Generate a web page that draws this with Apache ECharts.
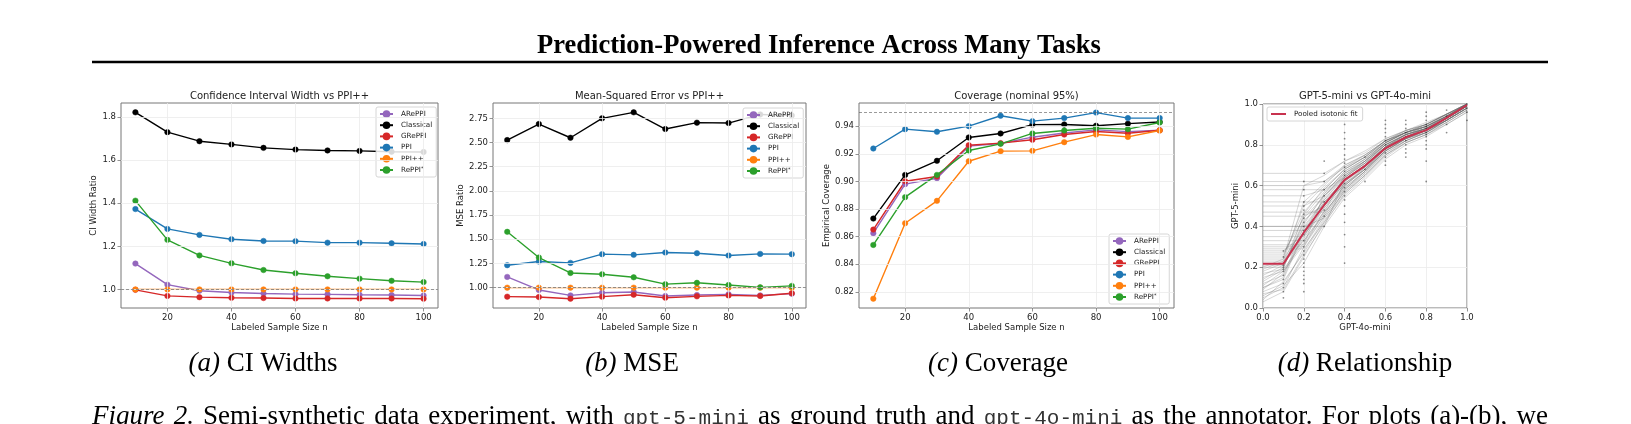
<!DOCTYPE html>
<html>
<head>
<meta charset="utf-8">
<script src="https://cdn.jsdelivr.net/npm/echarts@6/dist/echarts.min.js"></script>
<style>
  html, body { margin: 0; padding: 0; background: #fff; }
  #chart { width: 1631px; height: 424px; }
</style>
</head>
<body>
<div id="chart"></div>
<script>
// Labeled sample sizes shared by panels (a)-(c)
const sampleSizes = [10, 20, 30, 40, 50, 60, 70, 80, 90, 100];
const methods = ['ARePPI', 'Classical', 'GRePPI', 'PPI', 'PPI++', 'RePPI'];

// (a) CI width ratio vs PPI++
const ciARePPI    = [1.120, 1.022, 0.994, 0.986, 0.981, 0.978, 0.977, 0.975, 0.974, 0.972];
const ciClassical = [1.822, 1.730, 1.688, 1.673, 1.657, 1.649, 1.645, 1.643, 1.639, 1.638];
const ciGRePPI    = [0.998, 0.970, 0.964, 0.961, 0.960, 0.958, 0.958, 0.958, 0.958, 0.957];
const ciPPI       = [1.373, 1.281, 1.253, 1.233, 1.225, 1.224, 1.217, 1.217, 1.214, 1.211];
const ciPPIpp     = [1.0, 1.0, 1.0, 1.0, 1.0, 1.0, 1.0, 1.0, 1.0, 1.0];
const ciRePPI     = [1.412, 1.230, 1.158, 1.121, 1.090, 1.075, 1.061, 1.050, 1.040, 1.034];

// (b) MSE ratio vs PPI++
const mseARePPI    = [1.111, 0.976, 0.920, 0.948, 0.955, 0.914, 0.924, 0.931, 0.920, 0.938];
const mseClassical = [2.525, 2.691, 2.549, 2.750, 2.812, 2.639, 2.705, 2.701, 2.790, 2.780];
const mseGRePPI    = [0.907, 0.903, 0.886, 0.907, 0.927, 0.896, 0.910, 0.920, 0.914, 0.942];
const msePPI       = [1.232, 1.270, 1.256, 1.346, 1.339, 1.363, 1.356, 1.332, 1.349, 1.346];
const msePPIpp     = [1.0, 1.0, 1.0, 1.0, 1.0, 1.0, 1.0, 1.0, 1.0, 1.0];
const mseRePPI     = [1.577, 1.311, 1.152, 1.138, 1.107, 1.036, 1.050, 1.028, 1.003, 1.018];

// (c) empirical coverage
const covARePPI    = [0.8625, 0.8980, 0.9023, 0.9255, 0.9274, 0.9320, 0.9350, 0.9373, 0.9360, 0.9370];
const covClassical = [0.8731, 0.9047, 0.9149, 0.9318, 0.9347, 0.9411, 0.9412, 0.9403, 0.9418, 0.9430];
const covGRePPI    = [0.8651, 0.9001, 0.9035, 0.9262, 0.9277, 0.9301, 0.9339, 0.9361, 0.9349, 0.9370];
const covPPI       = [0.9238, 0.9378, 0.9359, 0.9400, 0.9475, 0.9436, 0.9458, 0.9498, 0.9458, 0.9458];
const covPPIpp     = [0.8151, 0.8697, 0.8859, 0.9146, 0.9219, 0.9221, 0.9284, 0.9339, 0.9322, 0.9368];
const covRePPI     = [0.8540, 0.8886, 0.9047, 0.9224, 0.9272, 0.9347, 0.9368, 0.9385, 0.9378, 0.9426];
const nominalCoverage = 0.95;
const referenceRatio = 1.0;

// tick labels
const nTicks = [20, 40, 60, 80, 100];
const ciTicks = [1.0, 1.2, 1.4, 1.6, 1.8];
const mseTicks = [1.0, 1.25, 1.5, 1.75, 2.0, 2.25, 2.5, 2.75];
const covTicks = [0.82, 0.84, 0.86, 0.88, 0.90, 0.92, 0.94];

// (d) GPT-4o-mini score grid and per-task isotonic fits of GPT-5-mini
const fitX = [0.0, 0.1, 0.2, 0.3, 0.4, 0.5, 0.6, 0.7, 0.8, 0.9, 1.0];
const pooledFit = [0.217, 0.217, 0.370, 0.505, 0.628, 0.697, 0.783, 0.837, 0.872, 0.932, 0.995];
const taskFits = [
  [0.05, 0.10, 0.30, 0.45, 0.58, 0.66, 0.76, 0.82, 0.86, 0.92, 0.98],
  [0.10, 0.15, 0.38, 0.52, 0.63, 0.70, 0.79, 0.84, 0.87, 0.93, 0.99],
  [0.20, 0.20, 0.42, 0.55, 0.65, 0.71, 0.80, 0.85, 0.88, 0.93, 1.00],
  [0.30, 0.30, 0.30, 0.48, 0.60, 0.68, 0.77, 0.83, 0.87, 0.92, 0.99],
  [0.40, 0.40, 0.40, 0.40, 0.62, 0.70, 0.79, 0.84, 0.88, 0.94, 1.00],
  [0.45, 0.45, 0.45, 0.50, 0.64, 0.72, 0.80, 0.85, 0.89, 0.94, 1.00],
  [0.50, 0.50, 0.50, 0.55, 0.66, 0.72, 0.81, 0.86, 0.89, 0.94, 0.99],
  [0.55, 0.55, 0.55, 0.58, 0.68, 0.74, 0.82, 0.86, 0.90, 0.95, 1.00],
  [0.60, 0.60, 0.60, 0.62, 0.70, 0.75, 0.82, 0.87, 0.90, 0.95, 1.00],
  [0.66, 0.66, 0.66, 0.66, 0.72, 0.76, 0.83, 0.87, 0.91, 0.95, 1.00],
  [0.15, 0.18, 0.35, 0.50, 0.62, 0.69, 0.78, 0.84, 0.87, 0.93, 0.99],
  [0.18, 0.22, 0.45, 0.57, 0.66, 0.72, 0.80, 0.85, 0.88, 0.94, 0.99],
  [0.22, 0.22, 0.33, 0.47, 0.59, 0.67, 0.77, 0.83, 0.86, 0.92, 0.98],
  [0.08, 0.12, 0.28, 0.44, 0.57, 0.65, 0.75, 0.82, 0.86, 0.91, 0.97],
  [0.25, 0.25, 0.50, 0.60, 0.70, 0.75, 0.82, 0.86, 0.89, 0.94, 1.00],
  [0.12, 0.16, 0.40, 0.53, 0.64, 0.71, 0.79, 0.85, 0.88, 0.93, 0.99],
  [0.28, 0.28, 0.36, 0.49, 0.61, 0.68, 0.78, 0.84, 0.88, 0.93, 0.99],
  [0.03, 0.08, 0.25, 0.42, 0.55, 0.64, 0.74, 0.81, 0.85, 0.90, 0.96],
  [0.31, 0.31, 0.31, 0.56, 0.67, 0.73, 0.81, 0.86, 0.89, 0.94, 1.00],
  [0.20, 0.24, 0.60, 0.65, 0.72, 0.77, 0.83, 0.87, 0.90, 0.95, 1.00],
  [0.17, 0.19, 0.32, 0.46, 0.60, 0.68, 0.78, 0.83, 0.87, 0.92, 0.98],
  [0.58, 0.58, 0.58, 0.58, 0.64, 0.71, 0.80, 0.85, 0.88, 0.93, 0.99],
  [0.35, 0.35, 0.35, 0.52, 0.63, 0.70, 0.79, 0.85, 0.89, 0.94, 1.00],
  [0.10, 0.14, 0.37, 0.54, 0.66, 0.73, 0.81, 0.86, 0.89, 0.94, 0.99],
  [0.06, 0.11, 0.22, 0.40, 0.54, 0.63, 0.73, 0.80, 0.84, 0.90, 0.96],
  [0.26, 0.26, 0.47, 0.58, 0.68, 0.74, 0.82, 0.86, 0.90, 0.95, 1.00],
  [0.14, 0.20, 0.43, 0.51, 0.61, 0.69, 0.78, 0.83, 0.87, 0.92, 0.98],
  [0.40, 0.40, 0.40, 0.44, 0.57, 0.66, 0.76, 0.82, 0.86, 0.92, 0.98],
  [0.24, 0.24, 0.39, 0.53, 0.65, 0.72, 0.80, 0.85, 0.88, 0.94, 0.99],
  [0.52, 0.52, 0.52, 0.52, 0.60, 0.69, 0.79, 0.84, 0.88, 0.93, 0.99],
  [0.09, 0.17, 0.34, 0.49, 0.61, 0.68, 0.77, 0.83, 0.87, 0.92, 0.98],
  [0.21, 0.21, 0.41, 0.56, 0.67, 0.73, 0.81, 0.86, 0.89, 0.94, 0.99],
  [0.04, 0.13, 0.27, 0.43, 0.56, 0.65, 0.75, 0.81, 0.85, 0.91, 0.97],
  [0.38, 0.38, 0.38, 0.50, 0.62, 0.70, 0.79, 0.85, 0.88, 0.93, 0.99],
  [0.16, 0.21, 0.36, 0.47, 0.58, 0.67, 0.77, 0.83, 0.86, 0.92, 0.98],
  [0.27, 0.27, 0.44, 0.55, 0.64, 0.71, 0.80, 0.85, 0.88, 0.93, 0.99],
  [0.11, 0.18, 0.31, 0.45, 0.59, 0.67, 0.77, 0.82, 0.86, 0.92, 0.98],
  [0.47, 0.47, 0.47, 0.47, 0.65, 0.72, 0.81, 0.86, 0.89, 0.94, 1.00],
  [0.19, 0.23, 0.52, 0.61, 0.69, 0.74, 0.81, 0.86, 0.89, 0.95, 1.00],
  [0.07, 0.09, 0.26, 0.41, 0.56, 0.65, 0.75, 0.81, 0.85, 0.91, 0.97],
  [0.33, 0.33, 0.33, 0.46, 0.60, 0.68, 0.78, 0.84, 0.87, 0.93, 0.99],
  [0.23, 0.23, 0.37, 0.51, 0.63, 0.70, 0.79, 0.84, 0.88, 0.93, 0.99],
  [0.13, 0.19, 0.46, 0.59, 0.68, 0.74, 0.82, 0.86, 0.90, 0.95, 1.00],
  [0.62, 0.62, 0.62, 0.62, 0.69, 0.75, 0.82, 0.87, 0.90, 0.95, 1.00],
  [0.29, 0.29, 0.29, 0.42, 0.58, 0.67, 0.77, 0.83, 0.87, 0.92, 0.98]
];
// raw (GPT-4o-mini, GPT-5-mini) score pairs, one column per 4o score
const dotX = [0.1, 0.2, 0.3, 0.4, 0.5, 0.6, 0.7, 0.8, 0.9, 1.0];
const dotY = [
  [0.05, 0.08, 0.10, 0.12, 0.14, 0.16, 0.18, 0.19, 0.20, 0.21, 0.22, 0.25, 0.28],
  [0.08, 0.12, 0.14, 0.16, 0.18, 0.20, 0.22, 0.24, 0.26, 0.28, 0.30, 0.33, 0.36, 0.38, 0.40, 0.42, 0.44, 0.46, 0.48, 0.50, 0.52, 0.55, 0.58, 0.62],
  [0.40, 0.45, 0.48, 0.52, 0.55, 0.58, 0.62, 0.66, 0.72],
  [0.22, 0.30, 0.36, 0.42, 0.46, 0.50, 0.53, 0.55, 0.57, 0.59, 0.61, 0.63, 0.65, 0.67, 0.69, 0.71, 0.73, 0.75, 0.78, 0.80, 0.83, 0.86, 0.90, 0.93],
  [0.62, 0.68, 0.74],
  [0.70, 0.72, 0.74, 0.76, 0.78, 0.80, 0.82, 0.84, 0.86, 0.88, 0.90, 0.92],
  [0.74, 0.76, 0.78, 0.80, 0.82, 0.84, 0.86, 0.88, 0.90, 0.92],
  [0.62, 0.72, 0.78, 0.80, 0.82, 0.84, 0.85, 0.86, 0.87, 0.88, 0.89, 0.90, 0.92, 0.94, 0.96],
  [0.86, 0.90, 0.94, 0.97],
  [0.92, 0.96, 0.98, 1.00]
];

// figure caption below the panels, set justified across the column
const captionParts = [
  ['Figure 2.', 'i'],
  ['Semi-synthetic data experiment, with', 'n'],
  ['gpt-5-mini', 'm'],
  ['as ground truth and', 'n'],
  ['gpt-4o-mini', 'm'],
  ['as the annotator. For plots (a)-(b), we', 'n']
];

const FONT = 'DejaVu Sans';
const SERIF = 'Liberation Serif';
const SPINE = '#777';
const GRIDLINE = '#ebebeb';
const methodColors = {
  'ARePPI': '#9467bd', 'Classical': '#000000', 'GRePPI': '#d62728',
  'PPI': '#1f77b4', 'PPI++': '#ff7f0e', 'RePPI': '#2ca02c'
};

// matplotlib-like 5% margins
const padded = (lists) => {
  let lo = Infinity, hi = -Infinity;
  lists.forEach(l => l.forEach(v => { lo = Math.min(lo, v); hi = Math.max(hi, v); }));
  const r = hi - lo;
  return [lo - 0.05 * r, hi + 0.05 * r];
};

const panels = [
  {values: [ciARePPI, ciClassical, ciGRePPI, ciPPI, ciPPIpp, ciRePPI], ticks: ciTicks, dec: 1,
   name: 'CI Width Ratio', nameGap: 20, ref: referenceRatio},
  {values: [mseARePPI, mseClassical, mseGRePPI, msePPI, msePPIpp, mseRePPI], ticks: mseTicks, dec: 2,
   name: 'MSE Ratio', nameGap: 25, ref: referenceRatio},
  {values: [covARePPI, covClassical, covGRePPI, covPPI, covPPIpp, covRePPI], ticks: covTicks, dec: 2,
   name: 'Empirical Coverage', nameGap: 24, ref: nominalCoverage}
];

const grids = [
  {left: 121, top: 103, width: 317, height: 205},
  {left: 493, top: 103, width: 313, height: 205},
  {left: 859, top: 103, width: 315, height: 205},
  {left: 1263, top: 104, width: 204, height: 204}
].map(g => Object.assign({show: true, borderColor: SPINE, borderWidth: 1, backgroundColor: 'transparent'}, g));

const labelStyle = {fontFamily: FONT, fontSize: 8.5, color: '#222'};
const nameStyle = {fontFamily: FONT, fontSize: 8.5, color: '#222'};
const tickStyle = {show: true, length: 3.5, lineStyle: {color: SPINE, width: 0.8}};

const xAxes = [];
const yAxes = [];
const series = [];

panels.forEach((p, gi) => {
  const xr = padded([sampleSizes]);
  const yr = padded(p.values.concat([[p.ref]]));
  xAxes.push({
    type: 'value', gridIndex: gi, min: xr[0], max: xr[1],
    name: 'Labeled Sample Size n', nameLocation: 'middle', nameGap: 15, nameTextStyle: nameStyle,
    axisLine: {show: false},
    axisTick: Object.assign({customValues: nTicks}, tickStyle),
    axisLabel: Object.assign({customValues: nTicks, margin: 5, formatter: v => String(Math.round(v))}, labelStyle),
    splitLine: {show: false}
  });
  yAxes.push({
    type: 'value', gridIndex: gi, min: yr[0], max: yr[1],
    name: p.name, nameLocation: 'middle', nameGap: p.nameGap, nameTextStyle: nameStyle,
    axisLine: {show: false},
    axisTick: Object.assign({customValues: p.ticks}, tickStyle),
    axisLabel: Object.assign({customValues: p.ticks, margin: 5, formatter: v => v.toFixed(p.dec)}, labelStyle),
    splitLine: {show: false}
  });
  // grid lines at the tick positions
  series.push({
    type: 'line', xAxisIndex: gi, yAxisIndex: gi, data: [], silent: true, z: 0,
    markLine: {
      symbol: 'none', silent: true, label: {show: false}, animation: false,
      lineStyle: {color: GRIDLINE, width: 0.8, type: 'solid'},
      data: nTicks.map(v => ({xAxis: v})).concat(p.ticks.map(v => ({yAxis: v})))
    }
  });
  methods.forEach((m, i) => {
    series.push({
      type: 'line', name: m, xAxisIndex: gi, yAxisIndex: gi,
      data: sampleSizes.map((n, k) => [n, p.values[i][k]]),
      symbol: 'circle', symbolSize: 5.5, showSymbol: true,
      lineStyle: {color: methodColors[m], width: 1.4},
      itemStyle: {color: methodColors[m], borderColor: methodColors[m], borderWidth: 0.5, opacity: 1},
      emphasis: {disabled: true},
      z: 2
    });
  });
  // reference dashed line
  series.push({
    type: 'line', xAxisIndex: gi, yAxisIndex: gi, data: [], silent: true, z: 5,
    markLine: {
      symbol: 'none', silent: true, label: {show: false}, animation: false,
      lineStyle: {color: '#555', opacity: 0.75, width: 0.8, type: [3, 2]},
      data: [{yAxis: p.ref}]
    }
  });
});

// panel (d)
xAxes.push({
  type: 'value', gridIndex: 3, min: 0, max: 1, interval: 0.2,
  name: 'GPT-4o-mini', nameLocation: 'middle', nameGap: 15, nameTextStyle: nameStyle,
  axisLine: {show: false}, axisTick: tickStyle,
  axisLabel: Object.assign({margin: 5, formatter: v => v.toFixed(1)}, labelStyle),
  splitLine: {show: true, lineStyle: {color: GRIDLINE, width: 0.8}}
});
yAxes.push({
  type: 'value', gridIndex: 3, min: 0, max: 1, interval: 0.2,
  name: 'GPT-5-mini', nameLocation: 'middle', nameGap: 17, nameTextStyle: nameStyle,
  axisLine: {show: false}, axisTick: tickStyle,
  axisLabel: Object.assign({margin: 5, formatter: v => v.toFixed(1)}, labelStyle),
  splitLine: {show: true, lineStyle: {color: GRIDLINE, width: 0.8}}
});
taskFits.forEach(fit => {
  series.push({
    type: 'line', xAxisIndex: 3, yAxisIndex: 3, silent: true, symbol: 'none',
    data: fitX.map((x, k) => [x, fit[k]]),
    lineStyle: {color: '#666', opacity: 0.38, width: 0.7}, z: 2
  });
});
const dots = [];
dotX.forEach((x, i) => dotY[i].forEach(y => dots.push([x, y])));
series.push({
  type: 'scatter', xAxisIndex: 3, yAxisIndex: 3, silent: true, data: dots,
  symbolSize: 1.8, itemStyle: {color: '#000', opacity: 0.45}, z: 3
});
series.push({
  type: 'line', name: 'Pooled isotonic fit', xAxisIndex: 3, yAxisIndex: 3, symbol: 'none',
  data: fitX.map((x, k) => [x, pooledFit[k]]),
  lineStyle: {color: '#c8324f', width: 2}, itemStyle: {color: '#c8324f'}, z: 4
});

const legendBase = {
  orient: 'vertical', selectedMode: false,
  backgroundColor: 'rgba(255,255,255,0.85)', borderColor: '#cccccc', borderWidth: 0.8, borderRadius: 2,
  padding: [3, 4, 3, 3], itemWidth: 13, itemHeight: 7, itemGap: 3.2,
  textStyle: {fontFamily: FONT, fontSize: 7.2, color: '#222', lineHeight: 8, padding: [0, 0, 0, 3],
              rich: {s: {fontSize: 5, fontFamily: FONT, color: '#222', verticalAlign: 'top', lineHeight: 5}}},
  formatter: name => name === 'RePPI' ? 'RePPI{s|*}' : name,
  data: methods
};

// justified caption line: measure words and spread the spare width over the gaps
const fonts = {
  i: {fontFamily: SERIF, fontSize: 27, fontStyle: 'italic', dy: 0},
  n: {fontFamily: SERIF, fontSize: 27, fontStyle: 'normal', dy: 0},
  m: {fontFamily: 'Liberation Mono', fontSize: 21, fontStyle: 'normal', dy: 1.5}
};
const measureCtx = document.createElement('canvas').getContext('2d');
const words = [];
captionParts.forEach(([text, kind]) => {
  const parts = kind === 'm' ? [text] : text.split(' ');
  parts.forEach(w => {
    const f = fonts[kind];
    measureCtx.font = f.fontStyle + ' ' + f.fontSize + 'px "' + f.fontFamily + '"';
    words.push({text: w, kind: kind, width: measureCtx.measureText(w).width});
  });
});
const lineLeft = 92, lineRight = 1548;
const totalWords = words.reduce((s, w) => s + w.width, 0);
const gap = (lineRight - lineLeft - totalWords) / (words.length - 1);
let cursor = lineLeft;
const captionGraphics = words.map(w => {
  const f = fonts[w.kind];
  const el = {
    type: 'text', x: cursor, y: 417 + f.dy, silent: true,
    style: {text: w.text, fontFamily: f.fontFamily, fontSize: f.fontSize, fontStyle: f.fontStyle,
            fill: w.kind === 'm' ? '#333' : '#000', align: 'left', verticalAlign: 'middle'}
  };
  cursor += w.width + gap;
  return el;
});

const subTitle = (x, text) => ({
  type: 'text', x: x, y: 96, silent: true,
  style: {text: text, fontFamily: FONT, fontSize: 10, fill: '#222', align: 'center', verticalAlign: 'middle'}
});
const subCaption = (x, tag, text) => ({
  type: 'text', x: x, y: 364, silent: true,
  style: {text: '{i|' + tag + '} ' + text, fontFamily: SERIF, fontSize: 27, fill: '#000',
          align: 'center', verticalAlign: 'middle',
          rich: {i: {fontFamily: SERIF, fontSize: 27, fontStyle: 'italic', fill: '#000'}}}
});

const option = {
  animation: false,
  backgroundColor: '#fff',
  grid: grids,
  xAxis: xAxes,
  yAxis: yAxes,
  legend: [
    Object.assign({}, legendBase, {left: 376, top: 107}),
    Object.assign({}, legendBase, {left: 743, top: 108}),
    Object.assign({}, legendBase, {left: 1109, top: 234}),
    Object.assign({}, legendBase, {left: 1267, top: 107, itemWidth: 15, itemHeight: 2, padding: [3, 5, 3, 4],
                                   formatter: name => name,
                                   data: [{name: 'Pooled isotonic fit', icon: 'rect'}]})
  ],
  series: series,
  graphic: [
    {type: 'text', x: 819, y: 46, silent: true,
     style: {text: 'Prediction-Powered Inference Across Many Tasks', fontFamily: SERIF, fontWeight: 'bold',
             fontSize: 26.5, fill: '#000', align: 'center', verticalAlign: 'middle'}},
    {type: 'line', silent: true, shape: {x1: 92, y1: 62, x2: 1548, y2: 62}, style: {stroke: '#000', lineWidth: 2.5}},
    subTitle(279.5, 'Confidence Interval Width vs PPI++'),
    subTitle(649.5, 'Mean-Squared Error vs PPI++'),
    subTitle(1016.5, 'Coverage (nominal 95%)'),
    subTitle(1365, 'GPT-5-mini vs GPT-4o-mini'),
    subCaption(263, '(a)', 'CI Widths'),
    subCaption(632, '(b)', 'MSE'),
    subCaption(998, '(c)', 'Coverage'),
    subCaption(1365, '(d)', 'Relationship')
  ].concat(captionGraphics)
};

const chart = echarts.init(document.getElementById('chart'));
chart.setOption(option);
</script>
</body>
</html>
